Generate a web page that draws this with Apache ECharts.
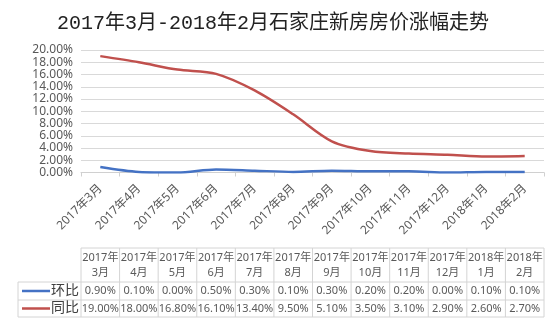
<!DOCTYPE html>
<html><head><meta charset="utf-8">
<script src="https://cdn.jsdelivr.net/npm/echarts@6/dist/echarts.min.js"></script>
<style>html,body{margin:0;padding:0;background:#fff}#c{width:556px;height:334px}</style>
</head><body><div id="c"></div>
<script>
const categories = ['2017年3月','2017年4月','2017年5月','2017年6月','2017年7月','2017年8月','2017年9月','2017年10月','2017年11月','2017年12月','2018年1月','2018年2月'];
const huanbi = [0.90,0.10,0.00,0.50,0.30,0.10,0.30,0.20,0.20,0.00,0.10,0.10];
const tongbi = [19.00,18.00,16.80,16.10,13.40,9.50,5.10,3.50,3.10,2.90,2.60,2.70];
const seriesNames = ['环比','同比'];
const colors = ['#4472c4','#c0504d'];
const titleText = '2017年3月-2018年2月石家庄新房房价涨幅走势';

const chart = echarts.init(document.getElementById('c'), null, {renderer:'canvas'});
const fontF = '"Noto Sans", "Noto Sans CJK SC", sans-serif';
const option = {
  animation:false,
  backgroundColor:'#fff',
  title:{text:titleText,left:52,top:9,textStyle:{fontSize:20,fontWeight:'normal',color:'#222',fontFamily:'"Liberation Mono", "Noto Sans CJK SC", monospace'}},
  grid:{left:81,right:12,top:50,bottom:161.5},
  xAxis:{type:'category',data:categories,boundaryGap:true,
    axisLine:{lineStyle:{color:'#d0d0d0'}},
    axisTick:{show:true,length:4,lineStyle:{color:'#d0d0d0'}},
    axisLabel:{rotate:45,fontSize:12,color:'#595959',fontFamily:fontF,margin:14,interval:0}},
  yAxis:{type:'value',min:0,max:20,interval:2,
    axisLine:{show:false},axisTick:{show:false},
    splitLine:{lineStyle:{color:'#d9d9d9'}},
    axisLabel:{formatter:v=>v.toFixed(2)+'%',fontSize:12,color:'#595959',fontFamily:fontF,margin:8}},
  series:[
    {name:seriesNames[0],type:'line',data:huanbi,symbol:'none',smooth:0.3,lineStyle:{color:colors[0],width:2.5},itemStyle:{color:colors[0]}},
    {name:seriesNames[1],type:'line',data:tongbi,symbol:'none',smooth:0.3,lineStyle:{color:colors[1],width:2.5},itemStyle:{color:colors[1]}}
  ]
};
chart.setOption(option);

// data table below chart
const xs = categories.map((c,i)=>chart.convertToPixel({xAxisIndex:0},i));
const cw = xs.length>1 ? xs[1]-xs[0] : 38;
const x0 = xs[0]-cw/2, x1 = xs[xs.length-1]+cw/2;
const legL = 18;
const yH = 248, yR1 = 282, yR2 = 300, yR3 = 317;
const bc = '#d4d4d4';
const g = [];
function line(a,b,c,d){g.push({type:'line',shape:{x1:a,y1:b,x2:c,y2:d},style:{stroke:bc,lineWidth:1}});}
line(x0,yH,x1,yH);
line(legL,yR1,x1,yR1);
line(legL,yR2,x1,yR2);
line(legL,yR3,x1,yR3);
line(legL,yR1,legL,yR3);
for(let i=0;i<=xs.length;i++){const x=x0+i*cw;line(x,yH,x,yR3);}
const tf = {fontSize:11,fill:'#595959',fontFamily:fontF,align:'center',verticalAlign:'middle'};
categories.forEach((c,i)=>{
  const m = c.match(/^(\d+年)(.*)$/);
  g.push({type:'text',x:xs[i],y:(yH+yR1)/2,style:Object.assign({},tf,{text:m[1]+'\n'+m[2],lineHeight:15,fontSize:11})});
  g.push({type:'text',x:xs[i],y:(yR1+yR2)/2,style:Object.assign({},tf,{text:huanbi[i].toFixed(2)+'%'})});
  g.push({type:'text',x:xs[i],y:(yR2+yR3)/2,style:Object.assign({},tf,{text:tongbi[i].toFixed(2)+'%'})});
});
[[yR1,yR2],[yR2,yR3]].forEach((r,k)=>{
  const yc=(r[0]+r[1])/2;
  g.push({type:'line',shape:{x1:22,y1:yc,x2:50,y2:yc},style:{stroke:colors[k],lineWidth:2.5}});
  g.push({type:'text',x:79,y:yc,style:{text:seriesNames[k],fontSize:14,fill:'#404040',fontFamily:fontF,align:'right',verticalAlign:'middle'}});
});
chart.setOption({graphic:g});
</script></body></html>
